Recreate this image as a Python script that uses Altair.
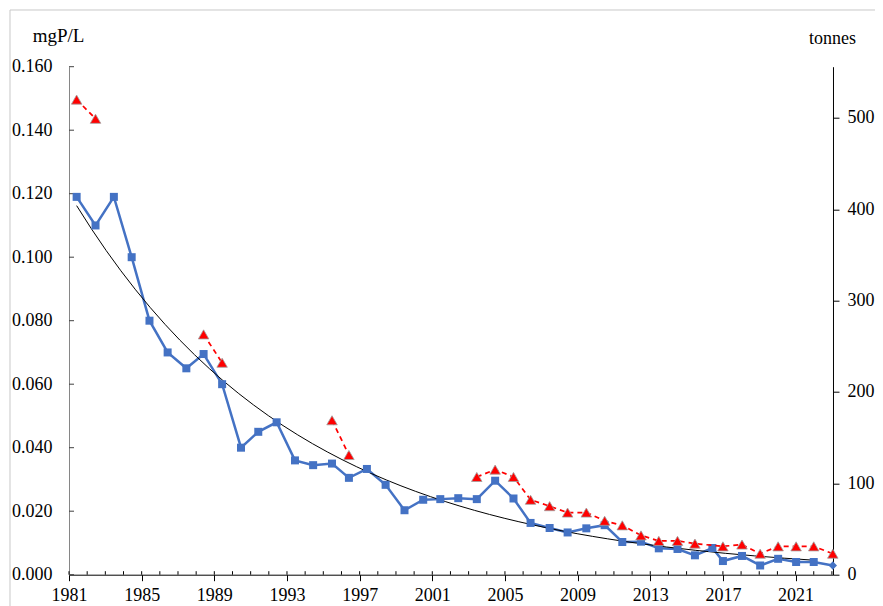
import altair as alt
import pandas as pd

# ---- data ----
blue_year = [1981.42, 1982.46, 1983.47, 1984.45, 1985.43, 1986.43, 1987.46, 1988.41,
             1989.43, 1990.47, 1991.42, 1992.43, 1993.44, 1994.44, 1995.48, 1996.41,
             1997.40, 1998.43, 1999.47, 2000.50, 2001.44, 2002.43, 2003.45, 2004.46,
             2005.47, 2006.41, 2007.46, 2008.45, 2009.48, 2010.49, 2011.46, 2012.49,
             2013.47, 2014.50, 2015.46, 2016.42, 2017.00, 2018.05, 2019.05, 2020.04,
             2021.03, 2022.00, 2023.05]
blue_tp = [0.119, 0.110, 0.119, 0.100, 0.080, 0.070, 0.065, 0.0695,
           0.060, 0.040, 0.045, 0.048, 0.036, 0.0345, 0.035, 0.0305,
           0.0333, 0.0283, 0.0203, 0.0236, 0.0238, 0.0241, 0.0238, 0.0296,
           0.0240, 0.0163, 0.0147, 0.0133, 0.0146, 0.0156, 0.0103, 0.0104,
           0.0083, 0.0081, 0.0061, 0.0084, 0.0043, 0.0059, 0.0029, 0.0050,
           0.0040, 0.0040, 0.0029]

red_year = [1981.42, 1982.46, 1988.41, 1989.43, 1995.48, 1996.41, 2003.45, 2004.46,
            2005.47, 2006.41, 2007.46, 2008.45, 2009.48, 2010.49, 2011.46, 2012.49,
            2013.47, 2014.50, 2015.46, 2017.00, 2018.05, 2019.05, 2020.04, 2021.03,
            2022.00, 2023.05]
red_tonnes = [520, 499, 263, 232, 169, 131, 107, 115,
              107, 82, 75, 68, 68, 59, 54, 43,
              37, 37, 34, 31, 33, 23, 31, 31,
              31, 23]
red_segment = [1, 1, 2, 2, 3, 3] + [4] * 20

x_labels = [1981, 1985, 1989, 1993, 1997, 2001, 2005, 2009, 2013, 2017, 2021]
x_minor = list(range(1981, 2024))
left_ticks = [0.0, 0.02, 0.04, 0.06, 0.08, 0.10, 0.12, 0.14, 0.16]
right_ticks = [0, 100, 200, 300, 400, 500]

blue_df = pd.DataFrame({"year": blue_year, "tp": blue_tp})
red_df = pd.DataFrame({"year": red_year, "tonnes": red_tonnes, "seg": red_segment})
minor_df = pd.DataFrame({"year": x_minor})
lt_df = pd.DataFrame({"tp": left_ticks})
one_df = pd.DataFrame({"a": [0]})

W, H = 764, 508
PAD_L, PAD_T, PAD_R, PAD_B = 61, 58.7, 42, 31
FONT = "Liberation Serif"
BLUE = "#4472C4"

x_enc = alt.X("year:Q",
              scale=alt.Scale(domain=[1981, 2023.06], nice=False, zero=False),
              axis=alt.Axis(values=x_labels, format="d", title=None, tickSize=6,
                            labelPadding=6, labelFlush=False, labelOverlap=False,
                            domainColor="black", tickColor="black", grid=False))

y_left = alt.Y("tp:Q",
               scale=alt.Scale(domain=[0, 0.16], nice=False),
               axis=alt.Axis(values=left_ticks, format=".3f", tickSize=0, labelPadding=17,
                             domainColor="#868686", grid=False,
                             title="mgP/L", titleAngle=0, titleAlign="center",
                             titleBaseline="alphabetic", titleX=-11, titleY=-25,
                             titleFontSize=19))

y_right = alt.Y("tonnes:Q",
                scale=alt.Scale(domain=[0, 556], nice=False),
                axis=alt.Axis(orient="right", values=right_ticks, format="d", tickSize=6,
                              labelPadding=8, domainColor="black", tickColor="black",
                              grid=False, title="tonnes", titleAngle=0, titleAlign="center",
                              titleBaseline="alphabetic", titleX=-1, titleY=-23.5,
                              titleFontSize=18))

border = alt.Chart(one_df).mark_rect(fillOpacity=0, stroke="#C8C8C8", strokeWidth=1).encode(
    x=alt.value(-(PAD_L - 2)), x2=alt.value(W + 80), y=alt.value(-(PAD_T - 2)), y2=alt.value(H + 80))

minor = alt.Chart(minor_df).mark_rule(color="black", strokeWidth=1).encode(
    x=x_enc, y=alt.value(H), y2=alt.value(H - 3.5))

lticks = alt.Chart(lt_df).mark_rule(color="#404040", strokeWidth=1).encode(
    y=y_left, x=alt.value(0), x2=alt.value(5))

blue_line = alt.Chart(blue_df).mark_line(color=BLUE, strokeWidth=2.5).encode(x=x_enc, y=y_left)

trend = alt.Chart(blue_df).transform_filter("datum.year < 2023").transform_regression(
    "year", "tp", method="exp").mark_line(color="black", strokeWidth=1).encode(x=x_enc, y=y_left)

squares = alt.Chart(blue_df).transform_filter("datum.year < 2023").mark_point(
    shape="square", filled=True, color=BLUE, size=64, opacity=1).encode(x=x_enc, y=y_left)

diamond = alt.Chart(blue_df).transform_filter("datum.year >= 2023").mark_point(
    shape="diamond", filled=True, color=BLUE, size=70, opacity=1).encode(x=x_enc, y=y_left)

left = alt.layer(border, minor, lticks, blue_line, trend, squares, diamond)

red_line = alt.Chart(red_df).mark_line(color="#FF0000", strokeWidth=1.75, strokeDash=[5, 4]).encode(
    x=x_enc, y=y_right, detail="seg:N")

red_pts = alt.Chart(red_df).mark_point(
    shape="triangle-up", filled=True, fill="#FF0000", stroke="#A0A0A0", strokeWidth=0.8,
    size=110, opacity=1).encode(x=x_enc, y=y_right)

right = alt.layer(red_line, red_pts)

chart = alt.layer(left, right).resolve_scale(y="independent").properties(
    width=W, height=H,
    autosize=alt.AutoSizeParams(type="none"),
    padding={"left": PAD_L, "top": PAD_T, "right": PAD_R, "bottom": PAD_B},
).configure_view(stroke=None).configure_axis(
    labelFont=FONT, labelFontSize=18, labelColor="black",
    titleFont=FONT, titleFontWeight="normal", titleColor="black",
)

chart.save("out.html", embed_options={"renderer": "svg", "actions": False})
